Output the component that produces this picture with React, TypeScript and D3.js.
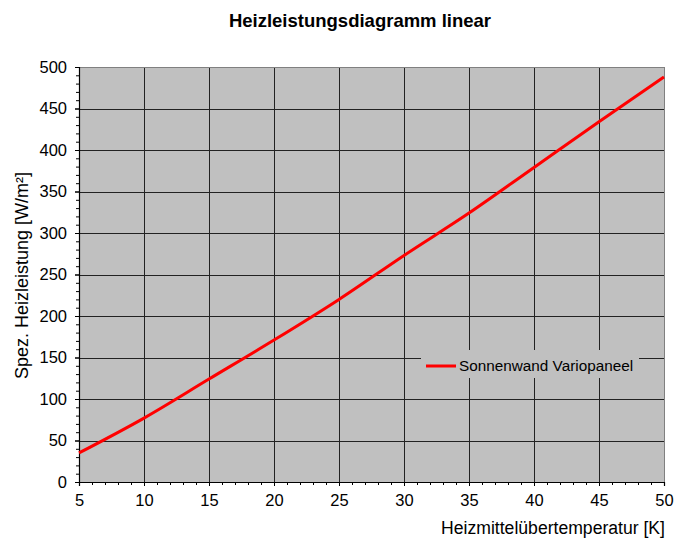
import React, { useEffect, useRef } from 'react';
import * as d3 from 'd3';

// Heizmittelübertemperatur [K]
const temps = [5, 10, 15, 20, 25, 30, 35, 40, 45, 50];
// Spez. Heizleistung [W/m²] – Sonnenwand Variopaneel
const power = [35, 77, 124, 171, 220, 273, 324, 379, 434, 488];

const xTicks = [5, 10, 15, 20, 25, 30, 35, 40, 45, 50];
const yTicks = [0, 50, 100, 150, 200, 250, 300, 350, 400, 450, 500];

const seriesName = 'Sonnenwand Variopaneel';
const FONT = 'Arial, "Liberation Sans", sans-serif';

export default function App() {
  const ref = useRef<SVGSVGElement>(null);

  useEffect(() => {
    document.body.style.margin = '0';
    const svg = d3.select(ref.current);
    svg.selectAll('*').remove();

    const width = 675, height = 540;
    const margin = { top: 67, right: 11, bottom: 58, left: 79 };
    const x = d3.scaleLinear().domain([5, 50]).range([margin.left, width - margin.right]);
    const y = d3.scaleLinear().domain([0, 500]).range([height - margin.bottom, margin.top]);

    svg.append('rect').attr('width', width).attr('height', height).attr('fill', '#fff');

    // plot area
    svg.append('rect')
      .attr('x', x(5)).attr('y', y(500))
      .attr('width', x(50) - x(5)).attr('height', y(0) - y(500))
      .attr('fill', '#c0c0c0');

    // grid
    const grid = svg.append('g').attr('shape-rendering', 'crispEdges');
    grid.selectAll('line.v').data(xTicks.slice(1, -1)).join('line')
      .attr('x1', d => Math.round(x(d)) + 0.5).attr('x2', d => Math.round(x(d)) + 0.5)
      .attr('y1', y(500)).attr('y2', y(0))
      .attr('stroke', '#222').attr('stroke-width', 1);
    grid.selectAll('line.h').data(yTicks.slice(1, -1)).join('line')
      .attr('y1', d => Math.round(y(d)) + 0.5).attr('y2', d => Math.round(y(d)) + 0.5)
      .attr('x1', x(5)).attr('x2', x(50))
      .attr('stroke', '#222').attr('stroke-width', 1);

    // top / right border
    svg.append('path')
      .attr('d', `M${x(5)},${y(500)}H${x(50)}V${y(0)}`)
      .attr('fill', 'none').attr('stroke', '#808080').attr('stroke-width', 1)
      .attr('shape-rendering', 'crispEdges');

    // axes
    const xAxis = svg.append('g')
      .attr('transform', `translate(0,${y(0)})`)
      .call(d3.axisBottom(x).tickValues(d3.range(5, 51, 1)).tickSize(4).tickFormat(() => ''));
    xAxis.selectAll('.tick line').attr('y2', (d: any) => (d % 5 === 0 ? 4 : 3));
    const xAxisMajor = svg.append('g')
      .attr('transform', `translate(0,${y(0)})`)
      .call(d3.axisBottom(x).tickValues(xTicks).tickSize(4).tickPadding(8));
    xAxisMajor.select('.domain').remove();

    const yAxis = svg.append('g')
      .attr('transform', `translate(${x(5)},0)`)
      .call(d3.axisLeft(y).tickValues(d3.range(0, 501, 10)).tickSize(4).tickFormat(() => ''));
    yAxis.selectAll('.tick line').attr('x2', (d: any) => (d % 50 === 0 ? -4 : -3));
    const yAxisMajor = svg.append('g')
      .attr('transform', `translate(${x(5)},0)`)
      .call(d3.axisLeft(y).tickValues(yTicks).tickSize(4).tickPadding(8));
    yAxisMajor.select('.domain').remove();

    svg.selectAll('.domain').attr('stroke', '#000').attr('stroke-width', 1.2);
    svg.selectAll('.tick line').attr('stroke', '#000');
    svg.selectAll('.tick text')
      .attr('font-family', FONT).attr('font-size', 16.5).attr('fill', '#000');

    // series line
    const line = d3.line<number>()
      .x((d, i) => x(temps[i]))
      .y(d => y(d))
      .curve(d3.curveMonotoneX);
    svg.append('path')
      .datum(power)
      .attr('fill', 'none')
      .attr('stroke', '#ff0000')
      .attr('stroke-width', 3)
      .attr('d', line);

    // legend
    const lg = svg.append('g');
    lg.append('rect')
      .attr('x', 421).attr('y', 350).attr('width', 218).attr('height', 28)
      .attr('fill', '#c0c0c0');
    lg.append('line')
      .attr('x1', 426).attr('x2', 456).attr('y1', 366).attr('y2', 366)
      .attr('stroke', '#ff0000').attr('stroke-width', 3);
    lg.append('text')
      .attr('x', 459).attr('y', 371)
      .attr('font-family', FONT).attr('font-size', 15.3)
      .text(seriesName);

    // title and axis labels
    svg.append('text')
      .attr('x', 360).attr('y', 27)
      .attr('text-anchor', 'middle')
      .attr('font-family', FONT).attr('font-size', 18.5).attr('font-weight', 'bold')
      .text('Heizleistungsdiagramm linear');

    svg.append('text')
      .attr('x', x(50) + 1).attr('y', 534)
      .attr('text-anchor', 'end')
      .attr('font-family', FONT).attr('font-size', 17.6)
      .text('Heizmittelübertemperatur [K]');

    svg.append('text')
      .attr('transform', `translate(28,275.5) rotate(-90)`)
      .attr('text-anchor', 'middle')
      .attr('font-family', FONT).attr('font-size', 18)
      .text('Spez. Heizleistung [W/m²]');
  }, []);

  return <svg ref={ref} width={675} height={540} style={{ display: 'block' }} />;
}
